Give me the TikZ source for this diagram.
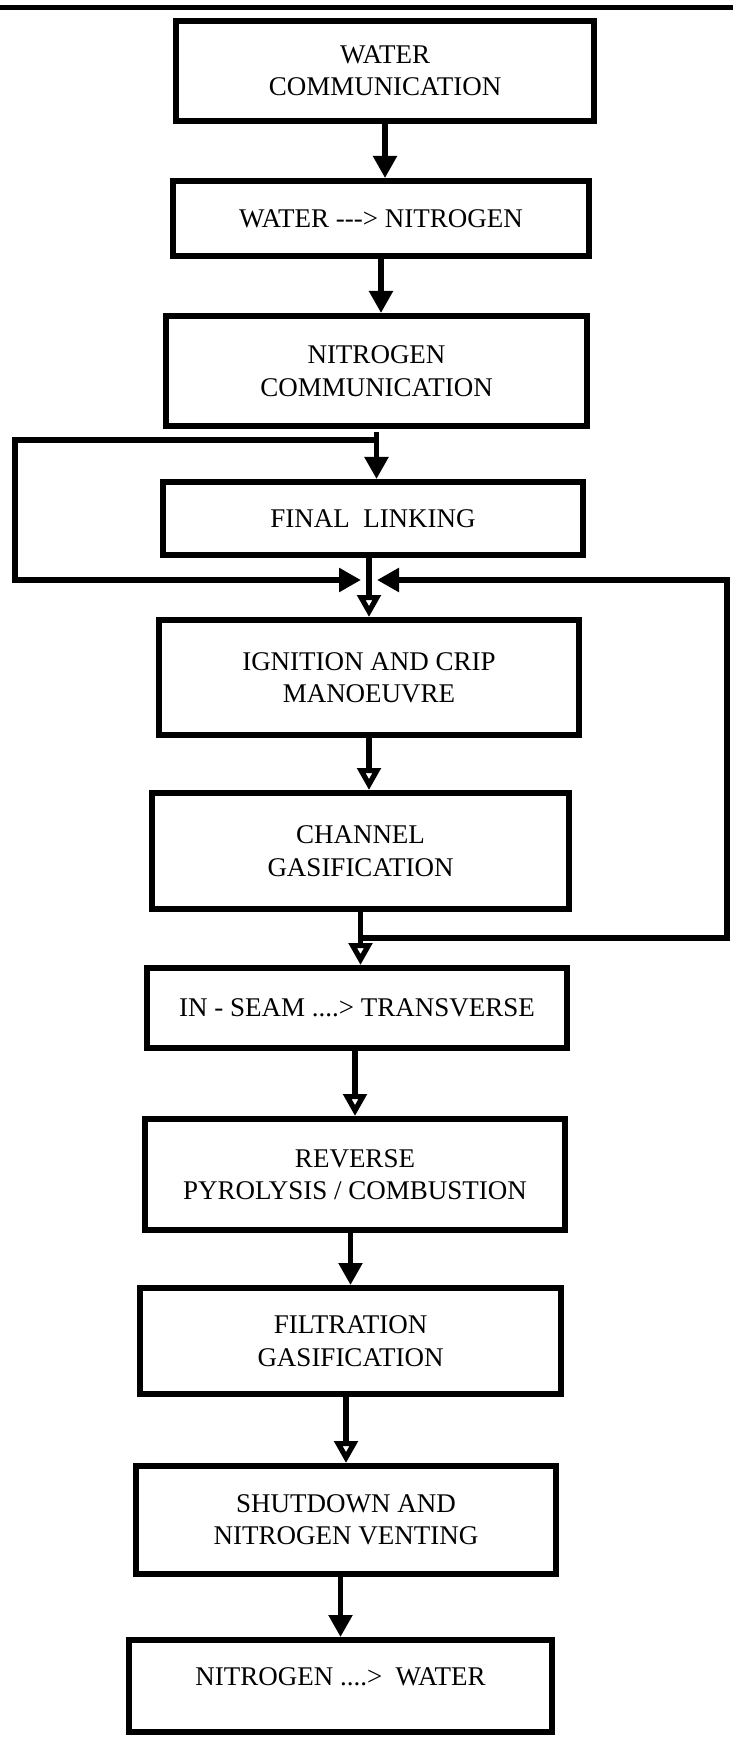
\documentclass[tikz,border=0pt]{standalone}
\usepackage{fontspec}
\setmainfont{Liberation Serif}
\usetikzlibrary{arrows.meta}
\begin{document}
\begin{tikzpicture}[x=0.5pt, y=-0.5pt,
  box/.style={draw, line width=3pt, inner sep=0pt, align=center,
    font=\fontsize{13.5}{16.2}\selectfont},
  conn/.style={line width=2.6pt, line join=miter},
  loopline/.style={line width=3pt, line join=miter},
  tipf/.tip={Triangle[length=11pt,width=11.5pt]},
  tipo/.tip={Triangle[open,length=11pt,width=11.5pt]},
  arr/.style={conn, -tipf},
  oarr/.style={conn, -tipo},
]
\useasboundingbox (0,0) rectangle (733,1748);

% top rule
\coordinate (tl) at (0,8);
\coordinate (tr) at (733,8);
\draw[line width=2.5pt] (tl) -- (tr);

% boxes
\node[box, minimum width=209pt,   minimum height=50pt]   (b1)  at (385,71)     {WATER\\COMMUNICATION};
\node[box, minimum width=208pt,   minimum height=37.5pt] (b2)  at (381,218.5)  {WATER -{}-{}-> NITROGEN};
\node[box, minimum width=210.5pt, minimum height=55pt]   (b3)  at (376.5,371)  {NITROGEN\\COMMUNICATION};
\node[box, minimum width=210pt,   minimum height=36.5pt] (b4)  at (373,518.5)  {FINAL\ \ LINKING};
\node[box, minimum width=210pt,   minimum height=57.5pt] (b5)  at (369,677.5)  {IGNITION AND CRIP\\MANOEUVRE};
\node[box, minimum width=208.5pt, minimum height=58pt]   (b6)  at (360.5,851)  {CHANNEL\\GASIFICATION};
\node[box, minimum width=210pt,   minimum height=40pt]   (b7)  at (357,1008)   {IN - SEAM ....> TRANSVERSE};
\node[box, minimum width=210pt,   minimum height=55.5pt] (b8)  at (355,1174.5) {REVERSE\\PYROLYSIS / COMBUSTION};
\node[box, minimum width=210.5pt, minimum height=53pt]   (b9)  at (350.5,1341) {FILTRATION\\GASIFICATION};
\node[box, minimum width=210pt,   minimum height=54pt]   (b10) at (346,1520)   {SHUTDOWN AND\\NITROGEN VENTING};
\node[box, minimum width=211.5pt, minimum height=46pt, text depth=9pt] (b11) at (340.5,1686) {NITROGEN ....>\ \ WATER};

% straight arrows
\draw[arr] (b1.south) -- (b1.south |- b2.north);
\draw[arr] (b2.south) -- (b2.south |- b3.north);
\coordinate (t3) at (376.5,432);
\draw[arr] (t3) -- (t3 |- b4.north);
\draw[oarr] (b5.north |- b4.south) -- (b5.north);
\draw[oarr] (b5.south) -- (b5.south |- b6.north);
\draw[oarr] (b6.south) -- (b6.south |- b7.north);
\draw[oarr] (b8.north |- b7.south) -- (b8.north);
\draw[arr]  (b9.north |- b8.south) -- (b9.north);
\draw[oarr] (b10.north |- b9.south) -- (b10.north);
\draw[arr]  (b11.north |- b10.south) -- (b11.north);

% left loop
\coordinate (j1)  at (376.5,440);
\coordinate (lc1) at (15,440);
\coordinate (lc2) at (15,580);
\coordinate (jl)  at (361,580);
\draw[loopline, -tipf] (j1) -- (lc1) -- (lc2) -- (jl);

% right loop
\coordinate (j2)  at (360.5,938);
\coordinate (rc1) at (727,938);
\coordinate (rc2) at (727,580);
\coordinate (jr)  at (377,580);
\draw[loopline, -tipf] (j2) -- (rc1) -- (rc2) -- (jr);
\end{tikzpicture}
\end{document}
